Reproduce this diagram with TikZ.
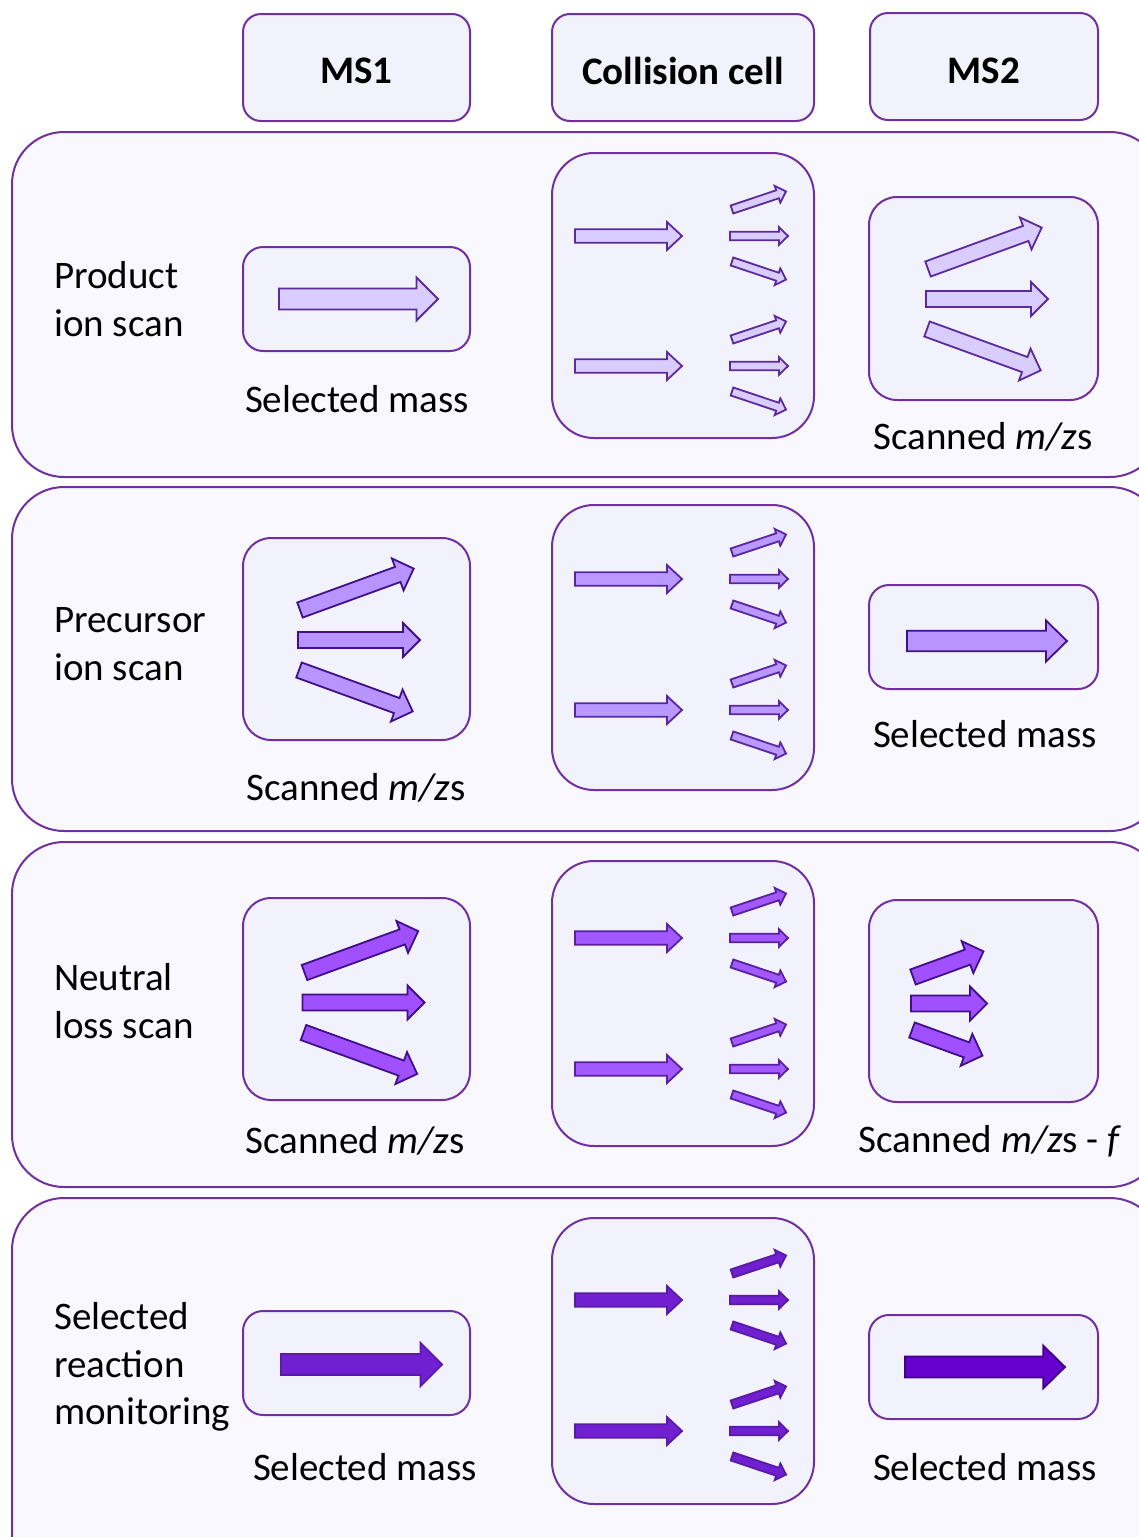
\documentclass[tikz,border=0pt]{standalone}
\usepackage{fontspec}
\setmainfont{Carlito}

% block arrow: style, tail centre, angle, length, shaft half width, head half width, head length
\newcommand{\blockarrow}[7]{%
  \draw[#1, shift={#2}, rotate=#3]
    (0,-#5) -- ({#4-#7},-#5) -- ({#4-#7},-#6) -- (#4,0)
    -- ({#4-#7},#6) -- ({#4-#7},#5) -- (0,#5) -- cycle;}

% three diverging arrows: style, x of middle tail, y of middle, length, vertical spread
\newcommand{\msfan}[5]{%
  \blockarrow{#1}{(#2+2,#3-#5)}{20}{#4}{8}{17}{17}
  \blockarrow{#1}{(#2,#3)}{0}{#4+1}{8}{17}{17}
  \blockarrow{#1}{(#2+1,#3+#5)}{-20}{#4}{8}{17}{17}}

% one incoming beam and its fragments inside the collision cell
\newcommand{\collfan}[2]{%
  \blockarrow{#1}{(575,#2)}{0}{107}{6.7}{14}{15}
  \blockarrow{#1}{(732,#2-26.5)}{18.5}{57}{4.2}{8.8}{9}
  \blockarrow{#1}{(730,#2)}{0}{58}{4.2}{8.8}{9}
  \blockarrow{#1}{(732,#2+25.5)}{-18.5}{57}{4.2}{8.8}{9}}

\definecolor{pcol}{HTML}{7030A0}
\definecolor{panelfill}{HTML}{F9F8FF}
\definecolor{boxfill}{HTML}{F2F2FC}
\definecolor{fillA}{HTML}{D9CCFF}
\definecolor{lineA}{HTML}{5B2A9C}
\definecolor{fillB}{HTML}{B794FF}
\definecolor{lineB}{HTML}{40108A}
\definecolor{fillBc}{HTML}{B998FF}
\definecolor{lineBc}{HTML}{5A26A0}
\definecolor{fillC}{HTML}{A050FF}
\definecolor{lineC}{HTML}{40108A}
\definecolor{fillCc}{HTML}{A259FF}
\definecolor{lineCc}{HTML}{5A20A0}
\definecolor{fillD}{HTML}{7020D0}
\definecolor{lineD}{HTML}{5A1AA8}
\definecolor{fillDm}{HTML}{6600CC}
\definecolor{lineDm}{HTML}{40008A}

\begin{document}
\begin{tikzpicture}[x=1pt, y=-1pt,
  panel/.style={draw=pcol, line width=2pt, fill=panelfill, rounded corners=52},
  box/.style={draw=pcol, line width=2pt, fill=boxfill},
  smallbox/.style={box, rounded corners=20},
  tallbox/.style={box, rounded corners=28},
  cellbox/.style={box, rounded corners=42},
  lbl/.style={font=\fontsize{39}{47.5}\selectfont, inner sep=0pt},
  rowlbl/.style={lbl, anchor=west, align=left},
  arr/.style={line width=1.8pt, line join=miter},
  arrA/.style={arr, fill=fillA, draw=lineA},
  arrB/.style={arr, fill=fillB, draw=lineB},
  arrBc/.style={arr, fill=fillBc, draw=lineBc},
  arrC/.style={arr, fill=fillC, draw=lineC},
  arrCc/.style={arr, fill=fillCc, draw=lineCc},
  arrD/.style={arr, fill=fillD, draw=lineD},
  arrDm/.style={arr, fill=fillDm, draw=lineDm}]

\useasboundingbox (0,0) rectangle (1139,1537);
\fill[white] (0,0) rectangle (1139,1537);

% outer row panels, running past the right and bottom edges
\begin{scope}
  \clip (0,0) rectangle (1139,1537);
  \draw[panel] (12,132) rectangle (1162,477);
  \draw[panel] (12,487) rectangle (1162,831);
  \draw[panel] (12,842) rectangle (1162,1187);
  \draw[panel] (12,1198) rectangle (1162,1600);
\end{scope}

% column headers
\draw[box, rounded corners=18] (243,14) rectangle (470,121);
\draw[box, rounded corners=18] (552,14) rectangle (814,121);
\draw[box, rounded corners=18] (870,13) rectangle (1098,120);
\node[lbl] (hms1) at (356.5,71) {\bfseries MS1};
\node[lbl] (hcell) at (683,71) {\bfseries Collision cell};
\node[lbl] (hms2) at (984,71) {\bfseries MS2};

% ---- product ion scan
\node[rowlbl] (lprod) at (54,299) {Product\\ion scan};
\draw[smallbox] (243,247) rectangle (470,351);
\blockarrow{arrA}{(279,299)}{0}{159}{10.5}{21.5}{21.5}
\node[lbl] (tprod1) at (357,399) {Selected mass};
\draw[cellbox] (552,153) rectangle (814,438);
\collfan{arrA}{236}
\collfan{arrA}{366}
\draw[tallbox] (869,197) rectangle (1098,400);
\msfan{arrA}{926}{299}{121}{30}
\node[lbl] (tprod2) at (983,437) {Scanned \textit{m/z}s};

% ---- precursor ion scan
\node[rowlbl] (lprec) at (54,644) {Precursor\\ion scan};
\draw[tallbox] (243,538) rectangle (470,740);
\msfan{arrB}{298}{640}{121}{30}
\node[lbl] (tprec1) at (356,788) {Scanned \textit{m/z}s};
\draw[cellbox] (552,505) rectangle (814,790);
\collfan{arrBc}{579}
\collfan{arrBc}{710}
\draw[smallbox] (869,585) rectangle (1098,689);
\blockarrow{arrB}{(907,641)}{0}{160}{10.3}{20.5}{21}
\node[lbl] (tprec2) at (985,734) {Selected mass};

% ---- neutral loss scan
\node[rowlbl] (lneut) at (54,1001) {Neutral\\loss scan};
\draw[tallbox] (243,898) rectangle (470,1100);
\msfan{arrC}{302.5}{1002.5}{121}{30}
\node[lbl] (tneut1) at (355,1141) {Scanned \textit{m/z}s};
\draw[cellbox] (552,861) rectangle (814,1146);
\collfan{arrCc}{938}
\collfan{arrCc}{1069}
\draw[tallbox] (869,900) rectangle (1098,1102);
\msfan{arrC}{911}{1003.5}{75}{26.5}
\node[lbl] (tneut2) at (990,1141) {Scanned \textit{m/z}s - \textit{f}};

% ---- selected reaction monitoring
\node[rowlbl] (lsrm) at (54,1367) {Selected\\reaction\\monitoring};
\draw[smallbox] (243,1311) rectangle (470,1415);
\blockarrow{arrD}{(281,1364.5)}{0}{161}{10.5}{21.7}{21.5}
\node[lbl] (tsrm1) at (365,1467) {Selected mass};
\draw[cellbox] (552,1218) rectangle (814,1504);
\collfan{arrD}{1300}
\collfan{arrD}{1431}
\draw[smallbox] (869,1315) rectangle (1098,1419);
\blockarrow{arrDm}{(905,1367)}{0}{160}{10.5}{21.3}{21.7}
\node[lbl] (tsrm2) at (985,1467) {Selected mass};

\end{tikzpicture}
\end{document}
